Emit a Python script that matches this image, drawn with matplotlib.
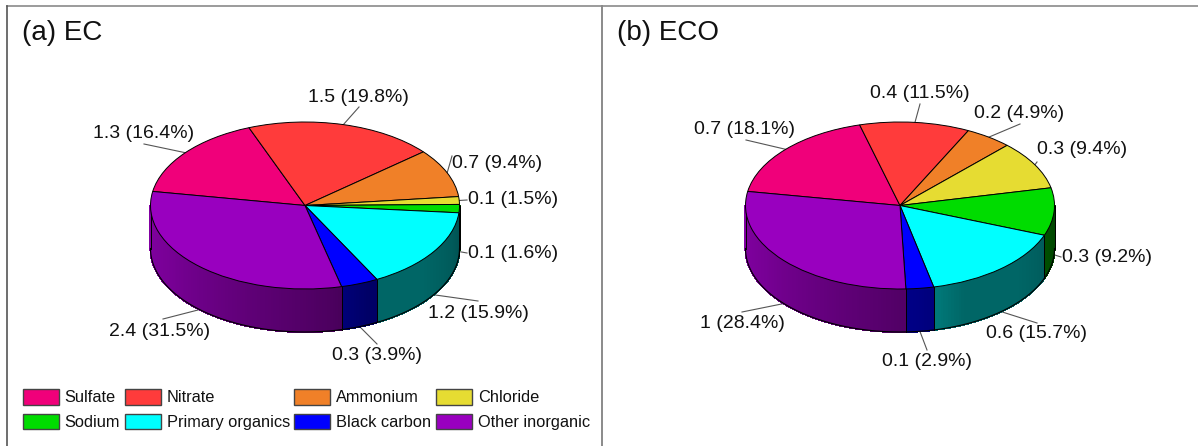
#!/usr/bin/env python3
"""
Two 3D looking pie charts of EC and ECO composition
"""

import numpy as np
import matplotlib
matplotlib.use("Agg")
import matplotlib.pyplot as plt
from matplotlib.collections import PolyCollection
from matplotlib.patches import Patch, Wedge
from matplotlib.transforms import Affine2D

plt.rcParams['font.family'] = ['Liberation Sans', 'DejaVu Sans']

species = ['Sulfate', 'Nitrate', 'Ammonium', 'Chloride',
           'Sodium', 'Primary organics', 'Black carbon', 'Other inorganic']
colors = ['#F0007A', '#FF3B3B', '#F08028', '#E6DC32',
          '#00DC00', '#00FFFF', '#0000FF', '#9900BF']

ec_values = ['1.3', '1.5', '0.7', '0.1', '0.1', '1.2', '0.3', '2.4']
ec_percent = [16.4, 19.8, 9.4, 1.5, 1.6, 15.9, 3.9, 31.5]
eco_values = ['0.7', '0.4', '0.2', '0.3', '0.3', '0.6', '0.1', '1']
eco_percent = [18.1, 11.5, 4.9, 9.4, 9.2, 15.7, 2.9, 28.4]

# label centres and the outer end of each leader line, in pixels
ec_text_xy = [(144, 134), (358, 97), (497, 163), (513, 200),
              (513, 254), (478, 313), (377, 356), (160, 332)]
ec_leader_xy = [(144, 144), (359, 107), (452, 156), (467, 200),
                (467, 253), (478, 301), (377, 344), (163, 319)]
eco_text_xy = [(745, 129), (920, 93), (1019, 113), (1082, 150),
               (1107, 258), (1036, 334), (927, 361), (742, 324)]
eco_leader_xy = [(746, 140), (920, 104), (1020, 124), (1037, 162),
                 (1061, 257), (1037, 323), (927, 350), (742, 312)]

START_ANGLE = 170.3
RX, RY, DEPTH = 154.5, 83.5, 43.0


def side_shade(angle):
    """Brightness of the pie wall for an angle in the lower half"""
    return np.interp(angle, [-180, -150, -80, -65, -40, 0],
                     [0.85, 0.78, 0.5, 0.4, 0.4, 0.32])


def draw_pie(ax, cx, cy, percent, values, text_xy, leader_xy):
    """Draw wall, top face, leader lines and labels of one pie"""
    trans = Affine2D().scale(RX, -RY).translate(cx, cy) + ax.transData
    depth = DEPTH / RY
    edges = START_ANGLE - 3.6 * np.concatenate(([0], np.cumsum(percent)))
    edges[-1] = START_ANGLE - 360

    # wall first, as thin shaded strips
    for i in range(len(percent)):
        hi, lo = min(edges[i], 0), max(edges[i + 1], -180)
        if hi <= lo:
            continue
        a = np.linspace(lo, hi, max(int(hi - lo), 1) + 1)
        x, y = np.cos(np.radians(a)), np.sin(np.radians(a))
        verts, strip_colors = [], []
        base = np.array(matplotlib.colors.to_rgb(colors[i]))
        for j in range(len(a) - 1):
            verts.append([(x[j], y[j]), (x[j + 1], y[j + 1]),
                          (x[j + 1], y[j + 1] - depth), (x[j], y[j] - depth)])
            strip_colors.append(base * side_shade((a[j] + a[j + 1]) / 2))
        # no antialiasing here, otherwise the strips show white seams
        ax.add_collection(PolyCollection(verts, facecolors=strip_colors,
                                         edgecolors=strip_colors, linewidths=0.8,
                                         antialiaseds=False,
                                         transform=trans, zorder=1))
        # vertical seams of this slice
        for seam in (lo, hi):
            sx, sy = np.cos(np.radians(seam)), np.sin(np.radians(seam))
            ax.plot([sx, sx], [sy, sy - depth], color='black', lw=0.7,
                    transform=trans, zorder=2)

    a = np.radians(np.linspace(-180, 0, 181))
    ax.plot(np.cos(a), np.sin(a) - depth, color='black', lw=0.8,
            transform=trans, zorder=2)

    # top face
    for i in range(len(percent)):
        ax.add_patch(Wedge((0, 0), 1, edges[i + 1], edges[i], facecolor=colors[i],
                           edgecolor='black', linewidth=0.7, transform=trans, zorder=3))

    # leader lines and labels
    for i in range(len(percent)):
        mid = (edges[i] + edges[i + 1]) / 2
        sx = cx + RX * np.cos(np.radians(mid))
        sy = cy - RY * np.sin(np.radians(mid))
        if np.sin(np.radians(mid)) < 0:
            sy += DEPTH
        ax.plot([sx, leader_xy[i][0]], [sy, leader_xy[i][1]],
                color='#555555', lw=0.8, zorder=0)
        ax.text(text_xy[i][0], text_xy[i][1], f'{values[i]} ({percent[i]}%)',
                ha='center', va='center', fontsize=14, color='#111111', zorder=5)


fig = plt.figure(figsize=(11.98, 4.46), dpi=100)
ax = fig.add_axes([0, 0, 1, 1])
ax.set_xlim(0, 1198)
ax.set_ylim(446, 0)
ax.axis('off')
ax.set_autoscale_on(False)

# panel frames
ax.plot([7, 1198], [5.5, 5.5], color='#8a8a8a', lw=1.2)
ax.plot([7, 7], [5.5, 446], color='#555555', lw=1.2)
ax.plot([601.5, 601.5], [5.5, 446], color='#8a8a8a', lw=1.4)

ax.text(22, 33, '(a) EC', fontsize=20, ha='left', va='center', color='#111111')
ax.text(617, 33, '(b) ECO', fontsize=20, ha='left', va='center', color='#111111')

draw_pie(ax, 305, 205.5, ec_percent, ec_values, ec_text_xy, ec_leader_xy)
draw_pie(ax, 900, 205.5, eco_percent, eco_values, eco_text_xy, eco_leader_xy)

# legend fills by column, so hand the entries over column by column
order = [0, 4, 1, 5, 2, 6, 3, 7]
handles = [Patch(facecolor=colors[i], edgecolor='#444444', linewidth=1.0, label=species[i])
           for i in order]
ax.legend(handles=handles, ncols=4, loc='lower left',
          bbox_to_anchor=(23, 430), bbox_transform=ax.transData,
          frameon=False, fontsize=11.75, borderpad=0, borderaxespad=0,
          handlelength=2.2, handleheight=1.1, handletextpad=0.36,
          columnspacing=0.28, labelspacing=0.5, labelcolor='#111111')

fig.savefig('out.png', dpi=100)
